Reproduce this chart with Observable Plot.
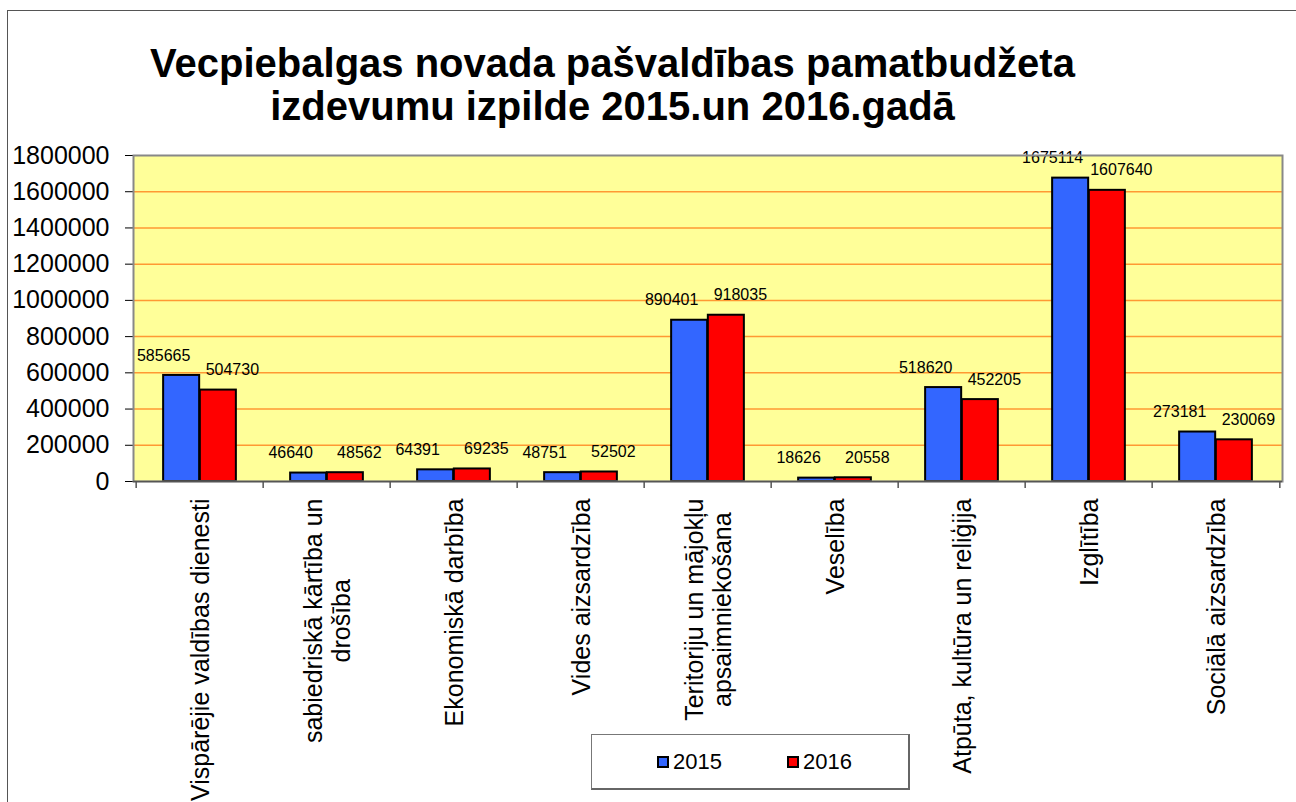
<!DOCTYPE html>
<html>
<head>
<meta charset="utf-8">
<script src="https://cdn.jsdelivr.net/npm/d3@7"></script>
<script src="https://cdn.jsdelivr.net/npm/@observablehq/plot@0.6"></script>
<style>
  html, body { margin: 0; padding: 0; background: #fff; }
  #wrap { position: relative; width: 1296px; height: 802px; overflow: hidden; font-family: "Liberation Sans", Arial, sans-serif; }
  #chart { position: absolute; left: 0; top: 0; }
  #title { position: absolute; left: 0; top: 42px; width: 1225px; text-align: center; font-weight: bold; font-size: 40px; line-height: 43px; color: #000; }
  #border { position: absolute; left: 7px; top: 10px; width: 1300px; height: 800px; border-left: 1.5px solid #555; border-top: 1.5px solid #555; pointer-events: none; }
  #legend { position: absolute; left: 591px; top: 734px; width: 316px; height: 53px; background: #fff; border: 1px solid #777; border-right: 2px solid #666; border-bottom: 2px solid #666; font-size: 22px; }
  .item { position: absolute; top: 14px; display: flex; align-items: center; }
  .sw { width: 8px; height: 8px; border: 2px solid #000; margin-right: 4px; }
</style>
</head>
<body>
<div id="wrap">
  <div id="chart"></div>
  <div id="title">Vecpiebalgas novada pašvaldības pamatbudžeta<br>izdevumu izpilde 2015.un 2016.gadā</div>
  <div id="border"></div>
  <div id="legend"></div>
</div>
<script>
// ---- data ----
const categories = [
  "Vispārējie valdības dienesti",
  "sabiedriskā kārtība un\ndrošība",
  "Ekonomiskā darbība",
  "Vides aizsardzība",
  "Teritoriju un mājokļu\napsaimniekošana",
  "Veselība",
  "Atpūta, kultūra un reliģija",
  "Izglītība",
  "Sociālā aizsardzība"
];
const values2015 = [585665, 46640, 64391, 48751, 890401, 18626, 518620, 1675114, 273181];
const values2016 = [504730, 48562, 69235, 52502, 918035, 20558, 452205, 1607640, 230069];
const years = ["2015", "2016"];
const yTicks = [0, 200000, 400000, 600000, 800000, 1000000, 1200000, 1400000, 1600000, 1800000];

const colors = {"2015": "#3366FF", "2016": "#FF0000"};

// ---- layout ----
const W = 1296, H = 802, mL = 133, mR = 14, mT = 155, mB = 321;
const plotW = W - mL - mR, plotH = H - mT - mB;
const B = plotW / categories.length;   // band width
const bw = B * 0.2875;                 // bar width

const d15 = categories.map((c, i) => ({cat: c, value: values2015[i]}));
const d16 = categories.map((c, i) => ({cat: c, value: values2016[i]}));

const ctx = document.createElement("canvas").getContext("2d");
ctx.font = "25px 'Liberation Sans', Arial, sans-serif";
const textLen = s => Math.max(...s.split("\n").map(l => ctx.measureText(l).width));

const catLabels = categories.map(c => Plot.text([c], {
  x: d => d, text: d => d, frameAnchor: "bottom", rotate: -90,
  textAnchor: "middle", lineAnchor: "middle", lineHeight: 1.12,
  fontSize: 25, dy: 17 + textLen(c) / 2, fill: "#000"
}));

const chart = Plot.plot({
  width: W, height: H,
  marginLeft: mL, marginRight: mR, marginTop: mT, marginBottom: mB,
  style: {fontFamily: "'Liberation Sans', Arial, sans-serif", fontSize: "25px", color: "#000", background: "transparent", overflow: "visible"},
  x: {domain: categories, padding: 0, axis: null},
  y: {domain: [0, 1800000], ticks: yTicks, tickFormat: d3.format("d"), tickSize: 8, tickPadding: 16, label: null},
  marks: [
    Plot.frame({fill: "#FFFF99", stroke: null}),
    Plot.ruleY(yTicks.slice(1, -1), {stroke: "#FF9933", strokeWidth: 1.5}),
    Plot.barY(d15, {x: "cat", y: "value", fill: colors["2015"], stroke: "#000", strokeWidth: 2, insetLeft: B / 2 - bw, insetRight: B / 2}),
    Plot.barY(d16, {x: "cat", y: "value", fill: colors["2016"], stroke: "#000", strokeWidth: 2, insetLeft: B / 2, insetRight: B / 2 - bw}),
    Plot.text(d15, {x: "cat", y: "value", text: d => String(d.value), dx: -bw / 2 - 18, dy: -20, fontSize: 16, fill: "#000"}),
    Plot.text(d16, {x: "cat", y: "value", text: d => String(d.value), dx: bw / 2 + 14, dy: -20, fontSize: 16, fill: "#000"}),
    Plot.frame({stroke: "#888", strokeWidth: 2}),
    Plot.ruleY([0], {stroke: "#555", strokeWidth: 1.5}),
    Plot.ruleX(categories, {x: d => d, dx: -B / 2, insetTop: plotH, insetBottom: -7, stroke: "#555", strokeWidth: 1.5}),
    Plot.ruleX(categories.slice(-1), {x: d => d, dx: B / 2, insetTop: plotH, insetBottom: -7, stroke: "#555", strokeWidth: 1.5}),
    ...catLabels
  ]
});
document.getElementById("chart").appendChild(chart);

// ---- legend ----
const legend = document.getElementById("legend");
const legendX = [65, 195];
years.forEach((yr, i) => {
  const it = document.createElement("div");
  it.className = "item";
  it.style.left = legendX[i] + "px";
  const sw = document.createElement("div");
  sw.className = "sw";
  sw.style.background = colors[yr];
  const t = document.createElement("span");
  t.textContent = yr;
  it.appendChild(sw); it.appendChild(t);
  legend.appendChild(it);
});
</script>
</body>
</html>
